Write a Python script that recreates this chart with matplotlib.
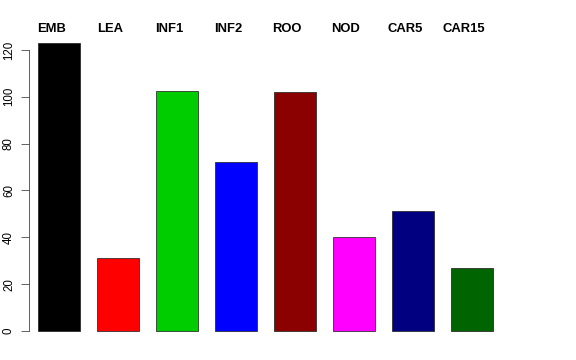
import matplotlib
matplotlib.use("Agg")
import matplotlib.pyplot as plt
import numpy as np

# data
tissues = ["EMB", "LEA", "INF1", "INF2", "ROO", "NOD", "CAR5", "CAR15"]
counts = [123, 31, 102.5, 72, 102, 40.3, 51.4, 26.8]
colors = ["#000000", "#FF0000", "#00CD00", "#0000FF", "#8B0000", "#FF00FF", "#000080", "#006400"]
yticks = [0, 20, 40, 60, 80, 100, 120]

plt.rcParams['font.family'] = ['Liberation Sans', 'DejaVu Sans']

W, H = 576, 360
fig = plt.figure(figsize=(W / 72, H / 72), dpi=72)
# axes box in pixel terms (left spine at x=29, y range 31..342)
ax = fig.add_axes([29 / W, 17.5 / H, 533 / W, 311.1 / H])

width = 0.87
space = 1.216
lefts = 0.2 + space * np.arange(len(counts))
centers = lefts + width / 2
ax.bar(centers, counts, width=width, color=colors, edgecolor="#222222", linewidth=0.75)

ax.set_xlim(0.014, 0.014 + 533 / 48.5)
ax.set_ylim(-4.92, 127.92)

for s in ["top", "right", "bottom"]:
    ax.spines[s].set_visible(False)
ax.spines["left"].set_bounds(0, 120)
ax.spines["left"].set_linewidth(0.75)
ax.spines["left"].set_color("#333333")
ax.set_xticks([])
ax.set_yticks(yticks)
ax.set_yticklabels([str(v) for v in yticks], rotation=90, va="center", fontsize=11.5)
ax.tick_params(axis="y", length=8, width=0.75, pad=6, color="#333333")

for c, name in zip(centers, tissues):
    ax.text(c - 0.165, 0.997, name, transform=ax.get_xaxis_transform(),
            ha="center", va="baseline", fontsize=13, fontweight="bold", clip_on=False)

fig.savefig("out.png", dpi=72)
